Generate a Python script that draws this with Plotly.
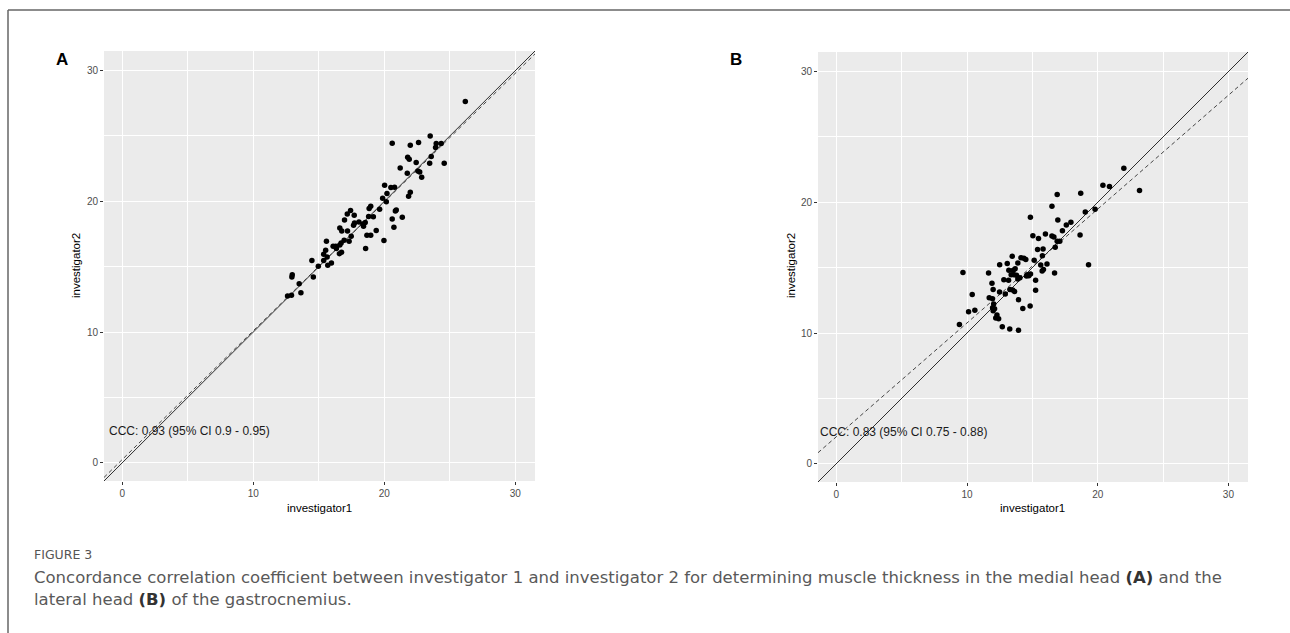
import plotly.graph_objects as go

# ---------------- data ----------------
A_investigator1 = [26.18, 23.50, 20.60, 21.98, 22.61, 23.96, 24.34, 23.91, 21.78, 21.90,
                   21.21, 21.75, 22.43, 22.56, 22.70, 22.85, 23.58, 23.46, 24.57, 20.02,
                   20.50, 20.78, 20.20, 19.87, 20.15, 21.98, 21.85, 18.96, 18.84, 19.64,
                   20.91, 20.84, 19.16, 21.37, 20.60, 20.73, 19.38, 19.97, 18.96,
                   17.42, 17.17, 17.70, 16.96, 16.60, 16.75, 17.19, 18.80, 18.36, 18.41,
                   18.06, 17.72, 17.65, 18.54, 17.47, 17.31, 18.67, 18.57, 16.70, 16.93,
                   16.60, 16.57, 16.73, 16.29, 16.09, 16.34, 15.58, 15.52, 15.37, 15.63,
                   15.37, 15.68, 15.96, 14.96, 14.47, 14.58, 12.97, 12.94, 13.50, 13.63,
                   12.91, 12.61]
A_investigator2 = [27.63, 25.00, 24.44, 24.29, 24.50, 24.42, 24.42, 24.11, 23.37, 23.22,
                   22.55, 22.15, 22.97, 22.32, 22.25, 21.84, 23.42, 22.91, 22.91, 21.23,
                   21.06, 21.08, 20.60, 20.24, 19.96, 20.70, 20.39, 19.63, 19.45, 19.40,
                   19.34, 19.26, 18.81, 18.78, 18.65, 18.02, 17.77, 17.00, 17.41,
                   19.29, 19.03, 18.93, 18.57, 17.96, 17.73, 17.73, 18.83, 18.27, 18.09,
                   18.42, 18.34, 18.16, 18.37, 17.32, 16.94, 17.40, 16.38, 16.81, 17.02,
                   16.66, 15.99, 16.10, 16.56, 16.56, 16.38, 16.94, 16.25, 15.94, 15.74,
                   15.48, 15.10, 15.28, 15.03, 15.48, 14.21, 14.39, 14.21, 13.70, 13.01,
                   12.81, 12.76]

B_investigator1 = [22.00, 23.20, 20.40, 20.90, 16.90, 18.70, 16.50, 19.05, 19.80, 14.85,
                   16.95, 17.95, 17.60, 17.30, 18.65, 15.04, 15.47, 16.00, 16.50, 16.65,
                   16.90, 17.10, 16.75, 15.40, 15.82, 15.14, 15.77, 16.12, 15.64, 15.85,
                   15.75, 16.70, 19.30, 15.25, 15.25, 14.83, 14.27, 13.94, 12.70, 13.27,
                   13.94, 13.46, 14.13, 14.35, 14.50, 12.50, 13.08, 13.89, 13.69, 13.20,
                   13.54, 13.38, 13.59, 13.79, 14.05, 13.89, 14.61, 14.73, 14.55, 14.86,
                   12.82, 13.18, 13.28, 13.49, 13.64, 12.93, 12.49, 11.91, 11.65, 9.69,
                   12.00, 11.70, 11.95, 12.04, 12.11, 12.00, 12.29, 12.42, 12.20, 10.40,
                   10.60, 10.12, 9.42, 11.96]
B_investigator2 = [22.60, 20.90, 21.30, 21.20, 20.60, 20.70, 19.70, 19.26, 19.46, 18.85,
                   18.65, 18.47, 18.27, 17.83, 17.50, 17.45, 17.24, 17.58, 17.42, 17.35,
                   17.02, 17.02, 16.56, 16.38, 16.43, 15.56, 15.92, 15.28, 15.20, 14.85,
                   14.74, 14.59, 15.23, 14.03, 13.27, 12.07, 11.87, 12.55, 10.48, 10.30,
                   10.21, 15.88, 15.76, 15.72, 15.62, 15.23, 15.32, 15.35, 14.92, 14.80,
                   14.80, 14.46, 14.46, 14.41, 14.23, 14.13, 14.46, 14.39, 14.36, 14.52,
                   14.08, 14.03, 13.32, 13.29, 13.18, 12.98, 13.13, 13.80, 14.60, 14.62,
                   13.32, 12.70, 12.62, 12.22, 11.86, 11.70, 11.38, 11.10, 11.15, 12.95,
                   11.74, 11.63, 10.66, 11.94]

# fitted (dashed) lines: intercept, slope
A_fit = (0.25, 0.985)
B_fit = (2.06, 0.871)

A_label = "CCC: 0.93 (95% CI 0.9 - 0.95)"
B_label = "CCC: 0.83 (95% CI 0.75 - 0.88)"

axis_range = [-1.4, 31.5]
tick_vals = [0, 10, 20, 30]
tick_text = ["0", "10", "20", "30"]

W, H = 1290, 633


def fx(px):
    return px / W


def fy(py):
    return 1 - py / H


fig = go.Figure()

panels = [
    ("x", "y", A_investigator1, A_investigator2, A_fit),
    ("x2", "y2", B_investigator1, B_investigator2, B_fit),
]
for xa, ya, xs, ys, fit in panels:
    a, b = fit
    fig.add_trace(go.Scatter(x=axis_range, y=axis_range, mode="lines", xaxis=xa, yaxis=ya,
                             line=dict(color="#1a1a1a", width=0.9), showlegend=False,
                             hoverinfo="skip"))
    fig.add_trace(go.Scatter(x=axis_range, y=[a + b * v for v in axis_range], mode="lines",
                             xaxis=xa, yaxis=ya,
                             line=dict(color="#333333", width=0.9, dash="4px,3px"),
                             showlegend=False, hoverinfo="skip"))
    fig.add_trace(go.Scatter(x=xs, y=ys, mode="markers", xaxis=xa, yaxis=ya,
                             marker=dict(color="black", size=5.5), showlegend=False))

axis_common = dict(
    range=axis_range, tickvals=tick_vals, ticktext=tick_text,
    showgrid=True, gridcolor="white", gridwidth=1.1,
    minor=dict(dtick=5, tick0=0, showgrid=True, gridcolor="white", gridwidth=0.5),
    zeroline=False, showline=False,
    ticks="outside", ticklen=3, tickwidth=0.8, tickcolor="#333333",
    tickfont=dict(family="Liberation Sans", size=10, color="#4d4d4d"),
    fixedrange=True,
)

fig.update_layout(
    width=W, height=H,
    margin=dict(l=0, r=0, t=0, b=0),
    paper_bgcolor="white", plot_bgcolor="#EBEBEB",
    xaxis=dict(domain=[fx(104), fx(535)], anchor="y", **axis_common),
    yaxis=dict(domain=[fy(481), fy(51)], anchor="x", **axis_common),
    xaxis2=dict(domain=[fx(818), fx(1248)], anchor="y2", **axis_common),
    yaxis2=dict(domain=[fy(482), fy(52)], anchor="x2", **axis_common),
)


def paper_text(text, px, py, size, family="Liberation Sans", color="black",
               xanchor="center", angle=0):
    return dict(text=text, x=fx(px), y=fy(py), xref="paper", yref="paper",
                xanchor=xanchor, yanchor="middle", textangle=angle, showarrow=False,
                font=dict(family=family, size=size, color=color))


ann = []
# panel letters
ann.append(paper_text("<b>A</b>", 62, 60, 17))
ann.append(paper_text("<b>B</b>", 736, 59, 17))
# axis titles
for cx in (319, 1032):
    ann.append(paper_text("investigator1", cx, 508, 11.5))
for cx in (76, 791):
    ann.append(paper_text("investigator2", cx, 266, 11.5, angle=-90))
# CCC labels
ann.append(dict(text=A_label, x=-1.15, y=2.42, xref="x", yref="y", xanchor="left",
                yanchor="middle", showarrow=False,
                font=dict(family="Liberation Sans", size=12, color="#1a1a1a")))
ann.append(dict(text=B_label, x=-1.4, y=2.45, xref="x2", yref="y2", xanchor="left",
                yanchor="middle", showarrow=False,
                font=dict(family="Liberation Sans", size=12, color="#1a1a1a")))
# caption
ann.append(paper_text("FIGURE 3", 32, 554, 12.5, family="DejaVu Sans", color="#555555",
                      xanchor="left"))
ann.append(paper_text("Concordance correlation coefficient between investigator 1 and investigator 2 "
                      "for determining muscle thickness in the medial head "
                      "<b style='color:#333333'>(A)</b> and the",
                      32, 577, 16.5, family="DejaVu Sans", color="#595959", xanchor="left"))
ann.append(paper_text("lateral head <b style='color:#333333'>(B)</b> of the gastrocnemius.",
                      32, 599, 16.5, family="DejaVu Sans", color="#595959", xanchor="left"))
fig.update_layout(annotations=ann)

# frame lines (top and left)
fig.update_layout(shapes=[
    dict(type="line", xref="paper", yref="paper", x0=fx(8), x1=1, y0=fy(10), y1=fy(10),
         line=dict(color="#666666", width=1.5)),
    dict(type="line", xref="paper", yref="paper", x0=fx(8), x1=fx(8), y0=fy(10), y1=0,
         line=dict(color="#666666", width=1.5)),
])

fig.write_html("out.html", config={"displayModeBar": False},
               post_script="document.body.style.margin='0';document.body.style.overflow='hidden';")
